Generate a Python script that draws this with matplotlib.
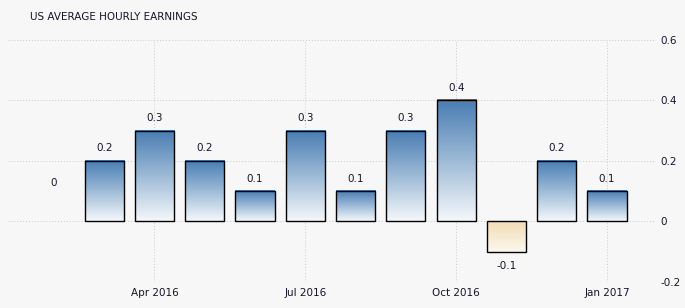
import matplotlib
matplotlib.use('Agg')
import matplotlib.pyplot as plt
import numpy as np
from matplotlib.colors import LinearSegmentedColormap

# Monthly change, Feb 2016 .. Jan 2017
months = ['Feb 2016', 'Mar 2016', 'Apr 2016', 'May 2016', 'Jun 2016', 'Jul 2016',
          'Aug 2016', 'Sep 2016', 'Oct 2016', 'Nov 2016', 'Dec 2016', 'Jan 2017']
values = [0, 0.2, 0.3, 0.2, 0.1, 0.3, 0.1, 0.3, 0.4, -0.1, 0.2, 0.1]
tick_months = ['Apr 2016', 'Jul 2016', 'Oct 2016', 'Jan 2017']
yticks = [-0.2, 0, 0.2, 0.4, 0.6]
ylabels = ['-0.2', '0', '0.2', '0.4', '0.6']

bg = '#f7f7f7'
txt = '#141428'
blue = LinearSegmentedColormap.from_list('b', ['#f4f7fa', '#9dbad6', '#4a7db3'])
tan = LinearSegmentedColormap.from_list('t', ['#fbf8f0', '#f2dcb3'])

fig = plt.figure(figsize=(6.85, 3.08), dpi=100, facecolor=bg)
ax = fig.add_axes([0.0117, 0.0844, 0.9445, 0.786], facecolor=bg)

x = np.arange(len(values))
width = 0.78
lws = [0 if v == 0 else 1.0 for v in values]
bars = ax.bar(x, values, width=width, facecolor='none', edgecolor='black',
              linewidth=lws, zorder=3)

grad = np.linspace(0, 1, 64).reshape(-1, 1)
for xi, v in zip(x, values):
    if v == 0:
        continue
    if v > 0:
        ax.imshow(grad, cmap=blue, aspect='auto', origin='lower',
                  extent=(xi - width / 2, xi + width / 2, 0, v), zorder=2)
    else:
        ax.imshow(grad, cmap=tan, aspect='auto', origin='lower',
                  extent=(xi - width / 2, xi + width / 2, v, 0), zorder=2)

# value labels
for xi, v in zip(x, values):
    lab = '%g' % v
    if v > 0:
        off = 5.5
    elif v < 0:
        off = -14
    else:
        off = 24
    ax.annotate(lab, (xi, v), xytext=(0, off), textcoords='offset points',
                ha='center', va='bottom', fontsize=7.5, color=txt)

ax.set_xlim(-0.913, 11.955)
ax.set_ylim(-0.2, 0.6)
ax.set_xticks([months.index(m) for m in tick_months])
ax.set_xticklabels(tick_months)
ax.set_yticks(yticks)
ax.set_yticklabels(ylabels)
ax.yaxis.tick_right()
ax.tick_params(axis='both', length=0, labelsize=7.5, labelcolor=txt)
ax.tick_params(axis='y', pad=4)
ax.tick_params(axis='x', pad=4)
for s in ax.spines.values():
    s.set_visible(False)
ax.grid(True, color='#c8c8c8', linestyle=(0, (1, 2)), linewidth=0.7, zorder=0)
ax.set_axisbelow(True)

fig.text(30 / 685, 1 - 17 / 308, 'US AVERAGE HOURLY EARNINGS', fontsize=7.5,
         color=txt, va='center', ha='left')

fig.savefig('out.png', dpi=100, facecolor=bg)
